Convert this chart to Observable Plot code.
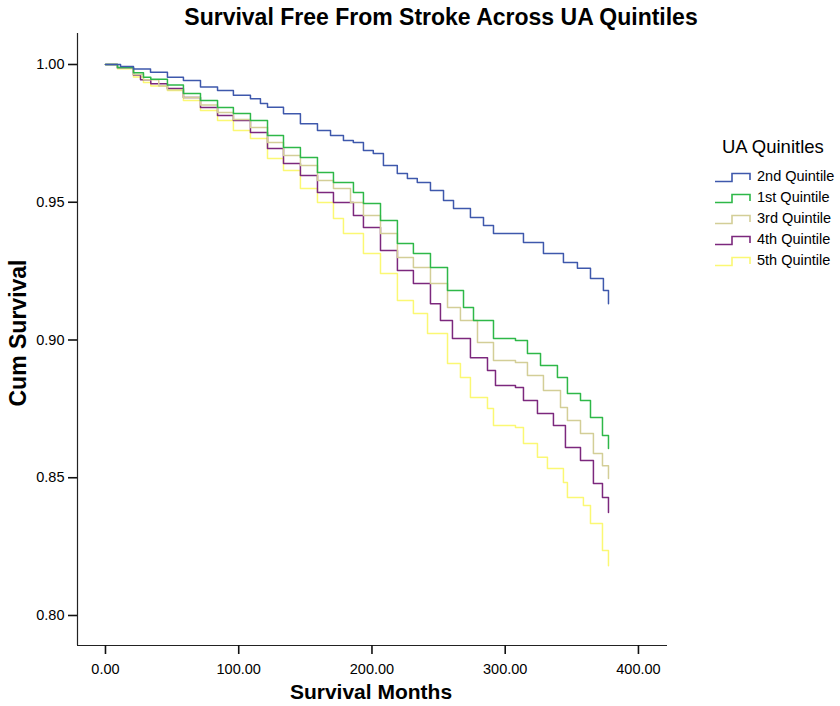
<!DOCTYPE html>
<html><head><meta charset="utf-8">
<script src="https://cdn.jsdelivr.net/npm/d3@7"></script>
<script src="https://cdn.jsdelivr.net/npm/@observablehq/plot@0.6"></script>
<style>
body{margin:0;background:#fff;font-family:Arial,"Liberation Sans",sans-serif;color:#000;}
#wrap{position:relative;width:840px;height:706px;overflow:hidden;background:#fff;}
#wrap > svg{position:absolute;left:0;top:0;}
.title{position:absolute;left:0;width:882px;top:2px;text-align:center;font-weight:bold;font-size:23px;line-height:30px;white-space:nowrap;}
.xtitle{position:absolute;left:0;width:742px;top:679px;text-align:center;font-weight:bold;font-size:21px;line-height:26px;white-space:nowrap;}
.ytitle{position:absolute;left:18px;top:333px;transform:translate(-50%,-50%) rotate(-90deg);font-weight:bold;font-size:23px;line-height:26px;white-space:nowrap;}
.legend{position:absolute;left:714px;top:134px;}
.ltitle{position:absolute;left:8px;top:0;font-size:18.5px;line-height:26px;white-space:nowrap;}
.item{position:absolute;left:0;height:21px;white-space:nowrap;font-size:14.5px;line-height:21px;}
.item svg{position:absolute;left:0;top:6px;}
.item span{position:absolute;left:43px;top:0;}
</style></head>
<body><div id="wrap"></div>
<script>
// ---- data (months, cumulative survival) ----
const groups = ["2nd Quintile", "1st Quintile", "3rd Quintile", "4th Quintile", "5th Quintile"];
const colors = ["#3e58ac", "#2eb848", "#d3ce97", "#7c287d", "#fbf873"];
const xTicks = [0, 100, 200, 300, 400];
const yTicks = [0.80, 0.85, 0.90, 0.95, 1.00];

const q2 = [[0,1],[11.3,0.9993],[21,0.9984],[33.8,0.9972],[46.5,0.9954],[58.5,0.9942],[71.3,0.9918],[84.1,0.9906],[96,0.9888],[108.8,0.9876],[116.3,0.9858],[121.6,0.9845],[133.6,0.9821],[146.3,0.9785],[159.1,0.976],[168.9,0.9742],[178.6,0.9724],[186,0.9717],[193.6,0.9688],[201,0.9677],[208.6,0.9633],[219,0.9604],[226.6,0.9586],[234,0.9572],[243.9,0.9543],[253.7,0.9506],[261.2,0.9477],[273.9,0.9445],[283.7,0.9416],[291.2,0.9387],[306.2,0.9387],[313.7,0.9354],[328.7,0.9314],[343.7,0.9281],[354.2,0.926],[364,0.9223],[373.7,0.918],[377.5,0.9132]];
const q1 = [[0,1],[9,0.9989],[21,0.997],[28.5,0.9954],[34,0.9946],[46.5,0.9926],[58.5,0.9895],[71.3,0.9869],[84.1,0.9844],[96,0.9822],[108.8,0.9797],[121.6,0.9742],[133.6,0.9699],[146.3,0.9662],[159.1,0.9608],[171.1,0.9572],[186.1,0.9535],[193.6,0.9495],[206.4,0.9434],[219.1,0.935],[231.1,0.9314],[243.9,0.9263],[256.7,0.918],[268.7,0.9118],[276.2,0.9071],[291.2,0.9005],[307.7,0.8998],[316.7,0.8951],[326.5,0.8907],[339.2,0.8864],[346.7,0.8806],[356.5,0.878],[364,0.8719],[373,0.8653],[377.5,0.8606]];
const q3 = [[0,1],[9,0.9987],[21,0.9964],[28.5,0.9945],[40,0.9922],[46.5,0.9908],[58.5,0.988],[71.3,0.9853],[84.1,0.9826],[96,0.98],[108.8,0.9771],[121.6,0.9717],[133.6,0.967],[146.3,0.9633],[159.1,0.9579],[171.1,0.955],[183.9,0.9499],[193.6,0.9452],[206.4,0.9387],[219.1,0.9299],[231.1,0.9263],[243.9,0.9205],[256.7,0.9118],[266.4,0.9071],[279.2,0.8991],[291.2,0.8926],[307.7,0.8918],[316.7,0.8871],[328.7,0.8817],[341.5,0.8755],[346.7,0.8708],[356.5,0.8661],[366.2,0.8588],[373,0.8544],[377.5,0.8497]];
const q4 = [[0,1],[9,0.9987],[21,0.9962],[26.3,0.9945],[34,0.9930],[46.5,0.9913],[58.5,0.988],[71.3,0.9844],[84.1,0.9815],[96,0.9797],[108.8,0.9753],[121.6,0.9695],[133.6,0.9641],[146.3,0.9597],[159.1,0.9535],[171.1,0.9499],[186.1,0.9452],[193.6,0.9408],[206.4,0.9325],[219.1,0.9252],[231.1,0.9205],[243.9,0.9132],[251.4,0.9071],[260.4,0.9005],[273.9,0.8936],[286.7,0.8889],[292.7,0.8835],[307.7,0.8828],[313.7,0.878],[324.2,0.8733],[336.2,0.869],[345.2,0.861],[356.5,0.8563],[366.2,0.8479],[373,0.8428],[377.5,0.8374]];
const q5 = [[0,1],[9,0.9985],[21,0.9955],[28.5,0.9935],[34,0.9922],[46.5,0.9906],[58.5,0.9869],[71.3,0.9833],[84.1,0.9797],[96,0.976],[108.8,0.9731],[121.6,0.9659],[133.6,0.9615],[146.3,0.955],[159.1,0.9499],[171.1,0.9441],[178.6,0.9387],[193.6,0.9314],[206.4,0.9241],[219.1,0.9143],[231.1,0.9096],[241.7,0.9024],[256.7,0.8915],[266.4,0.8864],[273.9,0.8791],[286.7,0.8751],[291.2,0.869],[307.7,0.8682],[313.7,0.8624],[324.2,0.8574],[331.7,0.8534],[343.7,0.8483],[346.7,0.8428],[358.7,0.8399],[364,0.8334],[373,0.8236],[377.5,0.8181]];

const seriesList = [q2, q1, q3, q4, q5];
const rows = [];
seriesList.forEach((s, i) => s.forEach(([t, v]) => rows.push({group: groups[i], t, s: v})));
const drawOrder = ["5th Quintile", "4th Quintile", "3rd Quintile", "1st Quintile", "2nd Quintile"];
rows.sort((a, b) => drawOrder.indexOf(a.group) - drawOrder.indexOf(b.group));

const xDomain = [-21, 421.8];
const yDomain = [0.78911, 1.01125];

const chart = Plot.plot({
  width: 840, height: 706,
  marginLeft: 77, marginRight: 173, marginTop: 33, marginBottom: 61,
  x: {domain: xDomain},
  y: {domain: yDomain},
  color: {domain: groups, range: colors},
  style: {fontFamily: "Arial, 'Liberation Sans', sans-serif", fontSize: "14.5px", color: "#000", background: "#fff", overflow: "visible"},
  marks: [
    Plot.ruleX([xDomain[0]], {stroke: "#222", strokeWidth: 1.2}),
    Plot.ruleY([yDomain[0]], {stroke: "#222", strokeWidth: 1.2}),
    Plot.axisX({ticks: xTicks, tickFormat: d => d.toFixed(2), tickSize: 9, tickPadding: 9, label: null, stroke: "#111", strokeWidth: 1.6, fontSize: 14.5}),
    Plot.axisY({ticks: yTicks, tickFormat: d => d.toFixed(2), tickSize: 9, tickPadding: 4, label: null, stroke: "#111", strokeWidth: 1.6, fontSize: 14.5}),
    Plot.line(rows, {x: "t", y: "s", z: "group", stroke: "group", curve: "step-after", strokeWidth: 1.5})
  ]
});

const wrap = document.getElementById("wrap");
wrap.appendChild(chart);

const add = (cls, txt) => { const d = document.createElement("div"); d.className = cls; d.textContent = txt; wrap.appendChild(d); return d; };
add("title", "Survival Free From Stroke Across UA Quintiles");
add("xtitle", "Survival Months");
add("ytitle", "Cum Survival");

const legend = document.createElement("div");
legend.className = "legend";
const lt = document.createElement("div"); lt.className = "ltitle"; lt.textContent = "UA Quinitles";
legend.appendChild(lt);
groups.forEach((g, i) => {
  const it = document.createElement("div");
  it.className = "item";
  it.style.top = (32 + i * 21.1) + "px";
  it.innerHTML = `<svg width="40" height="12"><path d="M1,9.5H18V1.5H36V8" fill="none" stroke="${colors[i]}" stroke-width="1.6"/></svg><span></span>`;
  it.querySelector("span").textContent = g;
  legend.appendChild(it);
});
wrap.appendChild(legend);
</script></body></html>
